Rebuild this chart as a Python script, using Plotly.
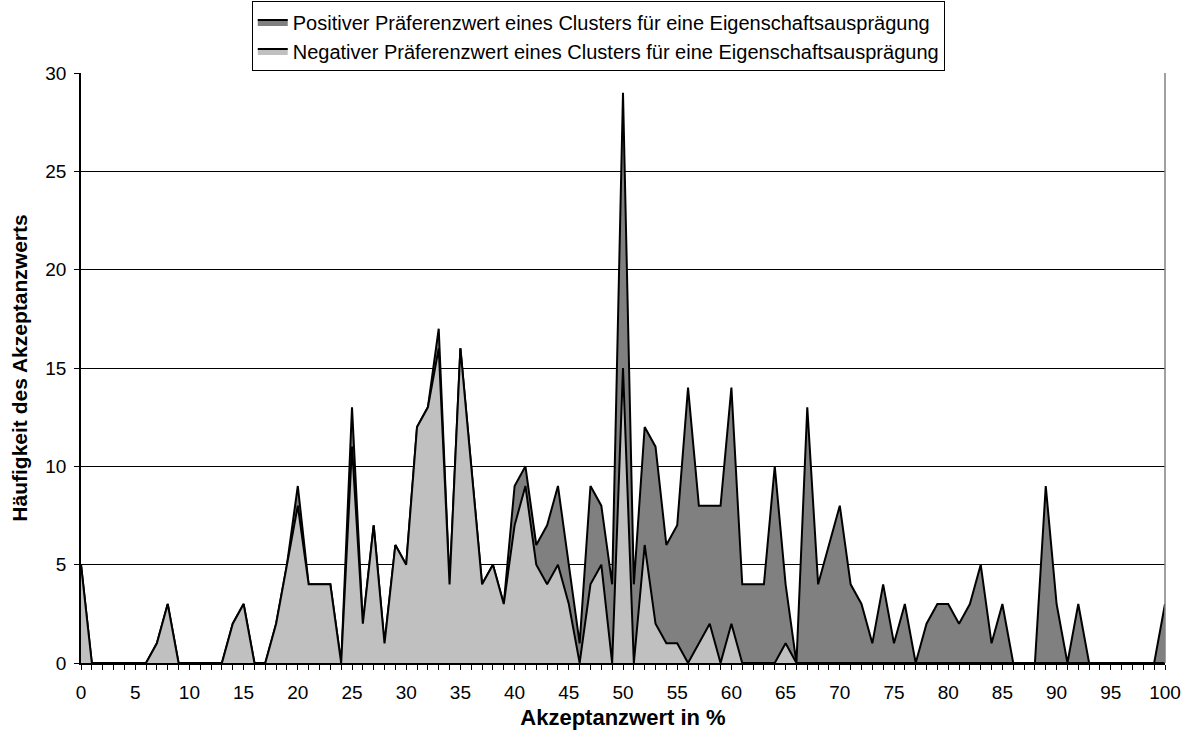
import plotly.graph_objects as go

akzeptanzwert = list(range(0, 101))

positiv = [
    5, 0, 0, 0, 0, 0, 0, 1, 3, 0,
    0, 0, 0, 0, 2, 3, 0, 0, 2, 5,
    9, 4, 4, 4, 0, 13, 2, 7, 1, 6,
    5, 12, 13, 17, 4, 16, 10, 4, 5, 3,
    9, 10, 6, 7, 9, 5, 1, 9, 8, 4,
    29, 4, 12, 11, 6, 7, 14, 8, 8, 8,
    14, 4, 4, 4, 10, 4, 0, 13, 4, 6,
    8, 4, 3, 1, 4, 1, 3, 0, 2, 3,
    3, 2, 3, 5, 1, 3, 0, 0, 0, 9,
    3, 0, 3, 0, 0, 0, 0, 0, 0, 0,
    3,
]

negativ = [
    5, 0, 0, 0, 0, 0, 0, 1, 3, 0,
    0, 0, 0, 0, 2, 3, 0, 0, 2, 5,
    8, 4, 4, 4, 0, 11, 2, 7, 1, 6,
    5, 12, 13, 16, 4, 16, 10, 4, 5, 3,
    7, 9, 5, 4, 5, 3, 0, 4, 5, 0,
    15, 0, 6, 2, 1, 1, 0, 1, 2, 0,
    2, 0, 0, 0, 0, 1, 0, 0, 0, 0,
    0, 0, 0, 0, 0, 0, 0, 0, 0, 0,
    0, 0, 0, 0, 0, 0, 0, 0, 0, 0,
    0, 0, 0, 0, 0, 0, 0, 0, 0, 0,
    0,
]

font = "Liberation Sans, Arial, sans-serif"

fig = go.Figure()
fig.add_trace(go.Scatter(
    x=akzeptanzwert, y=positiv, mode="lines", fill="tozeroy",
    fillcolor="#808080", line=dict(color="black", width=2),
    name="Positiver Präferenzwert eines Clusters für eine Eigenschaftsausprägung",
))
fig.add_trace(go.Scatter(
    x=akzeptanzwert, y=negativ, mode="lines", fill="tozeroy",
    fillcolor="#C0C0C0", line=dict(color="black", width=2),
    name="Negativer Präferenzwert eines Clusters für eine Eigenschaftsausprägung",
))

fig.update_layout(
    width=1187, height=738,
    margin=dict(l=81, r=22, t=73, b=75, autoexpand=False),
    paper_bgcolor="white", plot_bgcolor="white",
    font=dict(family=font, size=19, color="black"),
    showlegend=True,
    legend=dict(
        orientation="v", xref="container", x=0.504, xanchor="center",
        yref="container", y=0.998, yanchor="top",
        bordercolor="black", borderwidth=1, bgcolor="white",
        font=dict(size=20), tracegroupgap=0, itemwidth=30,
    ),
    xaxis=dict(
        range=[0, 100], dtick=5, tick0=0, showgrid=False, automargin=False,
        showline=True, linecolor="black", linewidth=1.5,
        ticks="outside", ticklen=5, tickcolor="black", ticklabelstandoff=6,
        minor=dict(dtick=1, ticks="outside", ticklen=5, tickcolor="black"),
        title=dict(text="<b>Akzeptanzwert in %</b>", font=dict(size=22), standoff=8),
        zeroline=False,
    ),
    yaxis=dict(
        range=[0, 30], dtick=5, showgrid=True, gridcolor="black", gridwidth=1,
        automargin=False,
        showline=True, linecolor="black", linewidth=1.5,
        ticks="outside", ticklen=5, tickcolor="black", ticklabelstandoff=4,
        title=dict(text="<b>Häufigkeit des Akzeptanzwerts</b>", font=dict(size=21), standoff=12),
        zeroline=False,
    ),
)

# grauer Rahmen der Zeichnungsfläche rechts
fig.add_shape(type="line", xref="paper", yref="paper", x0=1, x1=1, y0=0, y1=1,
              line=dict(color="#808080", width=1.5))

fig.write_html("out.html", config={"displayModeBar": False},
               post_script="document.body.style.margin='0';")
